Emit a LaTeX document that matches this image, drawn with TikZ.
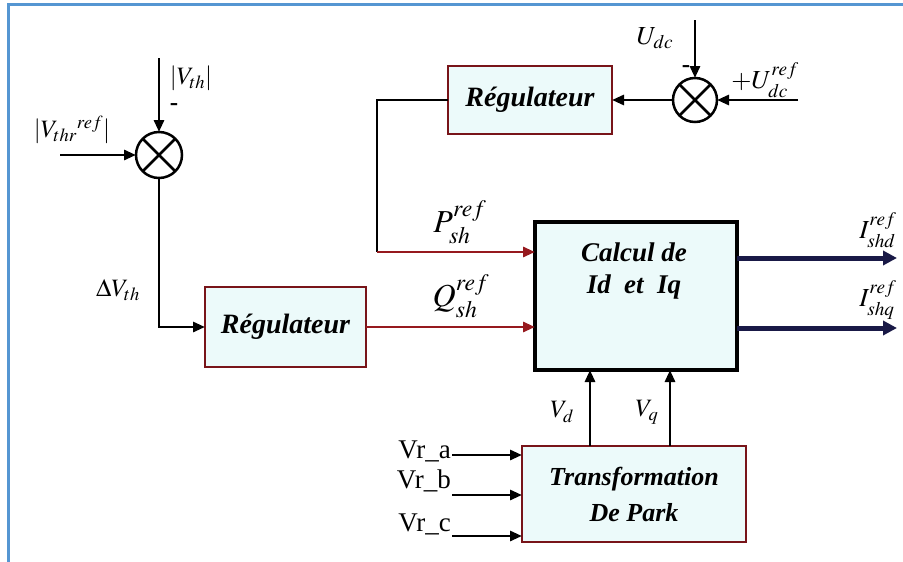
\documentclass[tikz,border=0pt]{standalone}
\usepackage{mathptmx}
\usepackage{fontspec}
\setmainfont{Liberation Serif}
\usetikzlibrary{arrows.meta}
\definecolor{boxfill}{RGB}{236,250,250}
\definecolor{boxred}{RGB}{120,20,25}
\definecolor{linered}{RGB}{150,25,30}
\definecolor{navy}{RGB}{25,25,70}
\definecolor{frameblue}{RGB}{85,150,210}
\begin{document}
\begin{tikzpicture}[x=1pt,y=-1pt,
  conn/.style={line width=2.8pt,-{Triangle[length=12pt,width=10pt]}},
  plain/.style={line width=2.8pt},
  redconn/.style={line width=2.8pt,draw=linered,-{Triangle[length=12pt,width=10pt,fill=linered]}},
  outconn/.style={line width=5pt,draw=navy,-{Triangle[length=14pt,width=14pt,fill=navy]}},
  regbox/.style={draw=boxred,line width=2.8pt,fill=boxfill,inner sep=0pt,outer sep=0pt,
     font=\fontsize{28}{30}\selectfont\bfseries\itshape,align=center},
  calcbox/.style={draw=black,line width=4pt,fill=boxfill,inner sep=0pt,outer sep=0pt},
  summer/.style={circle,draw,line width=2.5pt,minimum size=46pt,inner sep=0pt,outer sep=0pt},
  lbl/.style={inner sep=0pt,font=\fontsize{25}{27}\selectfont},
  biglbl/.style={inner sep=0pt,font=\fontsize{32}{34}\selectfont},
  midlbl/.style={inner sep=0pt,font=\fontsize{26}{28}\selectfont},
  vrlbl/.style={inner sep=0pt,font=\fontsize{27}{29}\selectfont}]
\useasboundingbox (0,0) rectangle (903,562);
\fill[white] (0,0) rectangle (903,562);
% frame
\draw[frameblue,line width=3pt] (8,562) -- (8,4) -- (903,4);
% blocks
\node[regbox,minimum width=161pt,minimum height=80pt] (reg1) at (285.5,327) {Régulateur};
\node[regbox,minimum width=164pt,minimum height=68pt] (reg2) at (530,100) {Régulateur};
\node[calcbox,minimum width=202pt,minimum height=148pt,anchor=north] (calc) at (636,222) {};
\node[inner sep=0pt,font=\fontsize{27}{32}\selectfont\bfseries\itshape,align=center] (calctxt) at (634,271) {Calcul de\\Id~~et~~Iq};
\node[regbox,minimum width=224pt,minimum height=96pt,font=\fontsize{26}{36}\selectfont\bfseries\itshape] (park) at (634,494) {Transformation\\De Park};
% summers
\node[summer] (s1) at (159,155) {};
\draw[line width=2.5pt] (s1.north west) -- (s1.south east) (s1.north east) -- (s1.south west);
\node[summer,minimum size=44pt] (s2) at (695,100) {};
\draw[line width=2.5pt] (s2.north west) -- (s2.south east) (s2.north east) -- (s2.south west);
% left summer connections
\coordinate (vthin) at (159,58);
\coordinate (vrefin) at (60,155);
\draw[conn] (vthin) -- (s1.north);
\draw[conn] (vrefin) -- (s1.west);
\draw[conn] (s1.south) |- (reg1.west);
\node[lbl] (lvth) at (191,78) {$|V_{th}|$};
\node[lbl] (lminus1) at (174,107) {\textbf{-}};
\node[lbl] (lvref) at (72,130) {$|V_{thr}{}^{ref}|$};
\node[lbl] (ldv) at (118,290) {$\Delta V_{th}$};
% Q and P
\draw[redconn] (reg1.east) -- (reg1.east -| calc.west);
\coordinate (pc) at (377,252);
\draw[plain] (reg2.west) -| (pc);
\draw[redconn] (pc) -- (pc -| calc.west);
\node[biglbl] (lp) at (460,222) {$P_{sh}^{ref}$};
\node[biglbl] (lq) at (461,296) {$Q_{sh}^{ref}$};
% right summer
\coordinate (udin) at (695,20);
\coordinate (udref) at (798,100);
\draw[conn] (udin) -- (s2.north);
\draw[conn] (udref) -- (s2.east);
\draw[conn] (s2.west) -- (reg2.east);
\node[midlbl] (lud) at (655,38) {$U_{dc}$};
\node[lbl] (lminus2) at (686,69) {\textbf{-}};
\node[midlbl] (luref) at (765,80) {$+U_{dc}^{ref}$};
% outputs
\coordinate (o1) at (897,258);
\coordinate (o2) at (897,328);
\draw[outconn] (o1 -| calc.east) -- (o1);
\draw[outconn] (o2 -| calc.east) -- (o2);
\node[midlbl] (li1) at (878,230) {$I_{shd}^{ref}$};
\node[midlbl] (li2) at (878,300) {$I_{shq}^{ref}$};
% Park outputs
\draw[conn] ([xshift=-44pt]park.north) -- ([xshift=-44pt]park.north |- calc.south);
\draw[conn] ([xshift=36pt]park.north) -- ([xshift=36pt]park.north |- calc.south);
\node[lbl] (lvd) at (562,412) {$V_d$};
\node[lbl] (lvq) at (647,412) {$V_q$};
% Park inputs
\coordinate (ia) at (452,455);
\coordinate (ib) at (452,495);
\coordinate (ic) at (452,536);
\draw[conn] (ia) -- (ia -| park.west);
\draw[conn] (ib) -- (ib -| park.west);
\draw[conn] (ic) -- (ic -| park.west);
\node[vrlbl,anchor=east] (lva) at (451,451) {Vr\_a};
\node[vrlbl,anchor=east] (lvb) at (451,481) {Vr\_b};
\node[vrlbl,anchor=east] (lvc) at (451,524) {Vr\_c};
\end{tikzpicture}
\end{document}
